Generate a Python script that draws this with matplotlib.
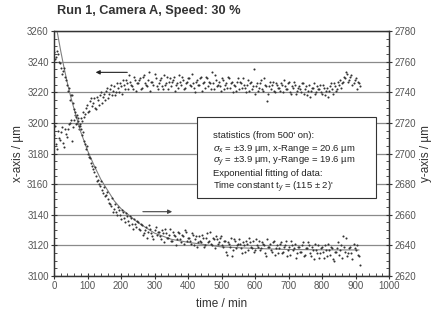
import numpy as np
import matplotlib
matplotlib.use("Agg")
import matplotlib.pyplot as plt
from matplotlib.patches import Rectangle

plt.rcParams['font.family'] = ['Liberation Sans', 'DejaVu Sans']
plt.rcParams['mathtext.fontset'] = 'custom'
plt.rcParams['mathtext.rm'] = 'Liberation Sans'
plt.rcParams['mathtext.it'] = 'Liberation Sans:italic'

# ---- data ----
title = "Run 1, Camera A, Speed: 30 %"
time_a = np.arange(0, 913, 6)   # sampling grid A (min)
time_b = np.arange(3, 910, 6)   # sampling grid B (min)

x_pos_a = [3192, 3186, 3195, 3189, 3197, 3184, 3193,
           3196, 3200, 3188, 3202, 3199, 3203, 3198, 3201, 3204,
           3210, 3207, 3214, 3211, 3216, 3209, 3215, 3218,
           3213, 3219, 3221, 3216, 3222, 3218, 3224, 3220,
           3223, 3226, 3219, 3225, 3228, 3222, 3227, 3224, 3230, 3221,
           3226, 3229, 3223, 3231, 3225, 3228, 3221, 3227, 3232, 3224,
           3226, 3229, 3222, 3225, 3230, 3227, 3224, 3228, 3221, 3226,
           3231, 3225, 3228, 3223, 3227, 3229, 3224, 3226, 3220, 3228,
           3225, 3230, 3226, 3223, 3229, 3227, 3222, 3226, 3231, 3224,
           3227, 3221, 3228, 3225, 3223, 3229, 3226, 3220, 3224, 3227,
           3222, 3226, 3229, 3223, 3225, 3221, 3227, 3224, 3219, 3226,
           3223, 3228, 3221, 3225, 3214, 3224, 3222, 3227, 3220, 3225,
           3223, 3226, 3220, 3224, 3222, 3227, 3219, 3223, 3225, 3221,
           3224, 3220, 3226, 3222, 3218, 3225, 3221, 3223, 3219, 3224,
           3222, 3220, 3225, 3218, 3223, 3221, 3226, 3219, 3224, 3222,
           3225, 3223, 3227, 3229, 3232, 3228, 3231, 3226, 3229, 3227,
           3224]

x_pos_b = [3198, 3183, 3190, 3194, 3187, 3196, 3191,
           3199, 3202, 3197, 3205, 3200, 3196, 3203, 3207, 3206,
           3212, 3208, 3216, 3213, 3210, 3217, 3212, 3220,
           3217, 3215, 3223, 3219, 3225, 3221, 3218, 3226,
           3220, 3224, 3228, 3222, 3226, 3231, 3225, 3222, 3228, 3226,
           3228, 3222, 3230, 3226, 3224, 3233, 3227, 3225, 3229, 3222,
           3228, 3224, 3231, 3226, 3222, 3229, 3227, 3230, 3225, 3223,
           3227, 3230, 3222, 3226, 3229, 3225, 3232, 3223, 3227, 3225,
           3229, 3221, 3227, 3230, 3224, 3226, 3233, 3222, 3228, 3225,
           3224, 3229, 3222, 3226, 3230, 3223, 3227, 3225, 3221, 3229,
           3227, 3223, 3225, 3220, 3228, 3226, 3222, 3235, 3224, 3221,
           3226, 3222, 3229, 3224, 3219, 3227, 3225, 3221, 3226, 3223,
           3221, 3225, 3228, 3222, 3226, 3220, 3224, 3227, 3219, 3223,
           3222, 3226, 3219, 3224, 3221, 3217, 3223, 3226, 3220, 3222,
           3225, 3219, 3223, 3221, 3217, 3224, 3222, 3226, 3221, 3227,
           3228, 3226, 3230, 3233, 3227, 3230, 3225, 3228, 3222, 3226]

y_pos_a = [2766, 2763, 2765, 2759,
           2752, 2756, 2748, 2741, 2735, 2738, 2729, 2724, 2721,
           2719, 2712, 2708, 2703, 2700, 2697, 2692, 2688, 2685,
           2683, 2679, 2676, 2678, 2673, 2670, 2667, 2671, 2664,
           2662, 2665, 2660, 2663, 2658, 2661, 2656, 2659, 2654,
           2657, 2652,
           2655, 2650, 2653, 2648, 2652, 2649, 2651, 2646, 2650, 2647,
           2649, 2644, 2648, 2651, 2645, 2647, 2643, 2649, 2646, 2644,
           2648, 2642, 2646, 2650, 2643, 2645, 2641, 2647, 2644, 2639,
           2646, 2642, 2645, 2640, 2648, 2643, 2641, 2645, 2638, 2644,
           2642, 2646, 2639, 2643, 2634, 2641, 2645, 2637, 2643, 2640,
           2644, 2638, 2642, 2636, 2641, 2645, 2639, 2643, 2637, 2640,
           2643, 2638, 2641, 2635, 2644, 2639, 2637, 2642, 2634, 2640,
           2638, 2642, 2636, 2640, 2633, 2639, 2643, 2637, 2641, 2635,
           2639, 2636, 2642, 2634, 2638, 2640, 2633, 2637, 2641, 2635,
           2632, 2638, 2636, 2640, 2633, 2637, 2639, 2631, 2636, 2638,
           2634, 2640, 2646, 2636, 2633, 2638, 2635, 2641, 2637, 2634,
           2627]

y_pos_b = [2762, 2767, 2760, 2756,
           2754, 2750, 2745, 2743, 2738, 2733, 2727, 2725, 2718,
           2716, 2714, 2706, 2705, 2698, 2694, 2690, 2691, 2682,
           2680, 2682, 2674, 2672, 2675, 2668, 2666, 2662, 2667,
           2660, 2663, 2657, 2662, 2655, 2659, 2653, 2658, 2651,
           2654, 2656,
           2651, 2654, 2647, 2650, 2645, 2653, 2648, 2644, 2652, 2649,
           2646, 2650, 2642, 2648, 2645, 2651, 2643, 2647, 2640, 2649,
           2644, 2647, 2641, 2649, 2645, 2643, 2648, 2640, 2646, 2642,
           2643, 2647, 2639, 2645, 2642, 2649, 2640, 2644, 2646, 2641,
           2645, 2640, 2643, 2636, 2642, 2639, 2633, 2644, 2638, 2641,
           2641, 2635, 2640, 2643, 2637, 2642, 2638, 2636, 2644, 2639,
           2637, 2642, 2640, 2633, 2639, 2641, 2636, 2643, 2638, 2635,
           2641, 2635, 2639, 2643, 2637, 2634, 2640, 2638, 2632, 2639,
           2636, 2640, 2633, 2638, 2642, 2635, 2639, 2631, 2637, 2640,
           2635, 2639, 2632, 2637, 2641, 2634, 2638, 2630, 2636, 2642,
           2637, 2632, 2639, 2645, 2635, 2639, 2631, 2638, 2640, 2633]

fit_t = [0, 10, 20, 30, 40, 50, 60, 80, 100, 120, 140, 160, 180, 200,
         250, 300, 350, 400, 500, 600, 700, 800, 910]
fit_y = [2792, 2779, 2767, 2756, 2746, 2737, 2729, 2714, 2702, 2692, 2683,
         2676, 2669, 2664, 2655, 2648, 2644, 2642, 2639, 2638, 2637.3,
         2637.1, 2637]

stats_lines = ["statistics (from 500' on):",
               r"$\sigma_x$ = ±3.9 µm, x-Range = 20.6 µm",
               r"$\sigma_y$ = ±3.9 µm, y-Range = 19.6 µm",
               "Exponential fitting of data:",
               r"Time constant t$_y$ = (115 ± 2)'"]

# ---- figure ----
fig = plt.figure(figsize=(4.32, 3.2), dpi=100)
ax = fig.add_axes([0.125, 0.1375, 0.7755, 0.7656])
ax2 = ax.twinx()

tick_col = '#555555'
for a in (ax, ax2):
    for s in a.spines.values():
        s.set_color('#333333')
        s.set_linewidth(0.9)

ax.set_xlim(0, 1000)
ax.set_ylim(3100, 3260)
ax2.set_ylim(2620, 2780)
ax.set_xticks(np.arange(0, 1001, 100))
ax.set_xticks(np.arange(0, 1001, 20), minor=True)
ax.set_yticks(np.arange(3100, 3261, 20))
ax.set_yticks(np.arange(3100, 3261, 5), minor=True)
ax2.set_yticks(np.arange(2620, 2781, 20))
ax2.set_yticks(np.arange(2620, 2781, 5), minor=True)

for a in (ax, ax2):
    a.tick_params(which='major', direction='inout', length=4.5, width=0.8,
                  labelsize=7, labelcolor=tick_col, color='#333333', pad=1.5)
    a.tick_params(which='minor', direction='in', length=2.5, width=0.6,
                  color='#333333')

ax.grid(axis='y', which='major', color='#8a8a8a', linewidth=0.9)
ax.set_axisbelow(True)

for tt, vv in ((time_a, x_pos_a), (time_b, x_pos_b)):
    ax.plot(tt, vv, 'o', ms=1.5, color='#333333', mec='none', zorder=3)
for tt, vv in ((time_a, y_pos_a), (time_b, y_pos_b)):
    ax2.plot(tt, vv, 'o', ms=1.5, color='#333333', mec='none', zorder=3)
ax2.plot(fit_t, fit_y, '-', color='#808080', lw=0.8, zorder=2)

ax.set_xlabel('time / min', fontsize=8.5, color='#333333', labelpad=5)
ax.set_ylabel('x-axis / µm', fontsize=8.5, color='#333333', labelpad=2)
ax2.set_ylabel('y-axis / µm', fontsize=8.5, color='#333333', labelpad=3)

# arrows indicating axis association
ax.annotate('', xy=(116, 3233), xytext=(227, 3233),
            arrowprops=dict(arrowstyle='-|>', color='#222222', lw=0.8,
                            mutation_scale=6))
ax2.annotate('', xy=(361, 2662), xytext=(257, 2662),
             arrowprops=dict(arrowstyle='-|>', color='#444444', lw=0.8,
                             mutation_scale=6))

# statistics box
ax2.add_patch(Rectangle((0.427, 0.318), 0.534, 0.331, transform=ax2.transAxes,
                        facecolor='white', edgecolor='#333333', lw=0.8,
                        zorder=5))
line_y = [0.562, 0.511, 0.459, 0.408, 0.355]
for txt, yy in zip(stats_lines, line_y):
    ax2.text(0.475, yy, txt, transform=ax2.transAxes, fontsize=6.8,
             color='#222222', va='baseline', ha='left', zorder=6)

fig.text(57 / 432, 1 - 11 / 320, title, fontsize=9.2, fontweight='bold',
         color='#333333', ha='left', va='center')

fig.savefig('out.png', dpi=100)
